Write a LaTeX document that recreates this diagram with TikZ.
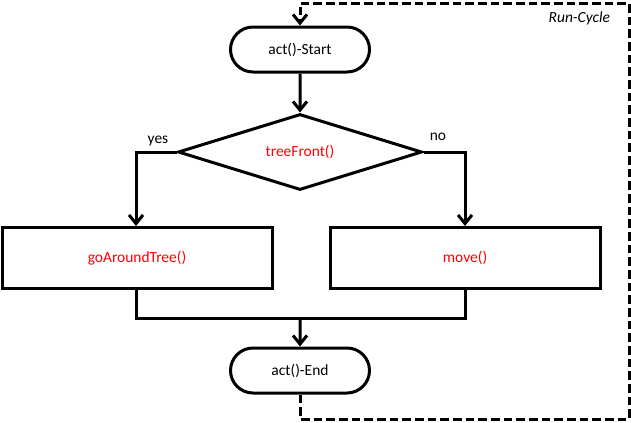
\documentclass[tikz,border=0pt]{standalone}
\usepackage{fontspec}
\setmainfont{Carlito}
\usetikzlibrary{arrows.meta,shapes.misc,shapes.geometric}
\begin{document}
\begin{tikzpicture}[x=0.75pt,y=-0.75pt,
  font=\fontsize{11.6}{13}\selectfont,
  line width=2.25pt,
  tip/.style={-{Straight Barb[length=6.5pt,width=10.5pt,line width=2.25pt]}},
  term/.style={draw,rounded rectangle,minimum width=104.25pt,minimum height=33.75pt,inner sep=0pt},
  proc/.style={draw,rectangle,minimum height=45.75pt,inner sep=0pt,text=red},
  dec/.style={draw,diamond,aspect=3.2,minimum width=183pt,minimum height=57pt,inner sep=0pt,text=red},
  cyc/.style={dash pattern=on 6.5pt off 3pt}]
\useasboundingbox (0,0) rectangle (631,422);
\node[term] (start) at (300,49.5) {act()-Start};
\node[dec] (cond) at (300,152) {treeFront()};
\node[proc,minimum width=202.5pt] (left) at (137,258) {goAroundTree()};
\node[proc,minimum width=202.5pt] (right) at (465,258) {move()};
\node[term] (end) at (300,370.5) {act()-End};
\coordinate (ly) at (136,152);
\coordinate (ry) at (465,152);
\coordinate (bl) at (136,318);
\coordinate (br) at (465,318);
\coordinate (bm) at (300,318);
\coordinate (d1) at (300,419);
\coordinate (d2) at (629,419);
\coordinate (d3) at (629,3);
\coordinate (d4) at (300,3);
\draw[tip] (start) -- (cond);
\draw[tip] (cond.west) -- (ly) -- (ly |- left.north);
\draw[tip] (cond.east) -- (ry) -- (ry |- right.north);
\node (yes) at (158,141) {yes};
\node (no) at (438,137) {no};
\draw (left.south -| bl) -- (bl) -- (br) -- (right.south -| br);
\draw[tip] (bm) -- (end);
\draw[cyc,tip] (end.south) -- (d1) -- (d2) -- (d3) -- (d4) -- (start.north);
\node[anchor=east,font=\fontsize{11.6}{13}\selectfont\itshape] (rc) at (616,18) {Run-Cycle};
\end{tikzpicture}
\end{document}
